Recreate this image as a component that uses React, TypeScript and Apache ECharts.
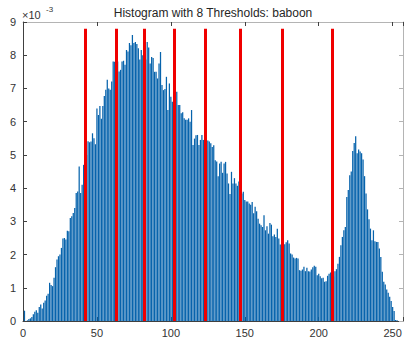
import React, { useEffect, useRef } from 'react';
import * as echarts from 'echarts';

// Histogram of pixel intensities (values in units of 1e-3)
const chartTitle = 'Histogram with 8 Thresholds: baboon';
const exponentBase = '×10';
const exponentPower = '-3';

const densityBins0to63 = [
  0, 0.31, 0, 0.02, 0.06, 0.08, 0.12, 0.2, 0.28, 0.32, 0.25, 0.42, 0.5, 0.38, 0.55, 0.62,
  0.76, 0.82, 1.15, 1.08, 1.05, 1.3, 1.62, 1.85, 1.95, 2.0, 2.2, 2.48, 2.5, 2.45, 2.72, 2.7,
  3.1, 3.15, 3.25, 3.4, 3.85, 3.9, 4.65, 3.85, 4.1, 4.7, 4.75, 5.0, 5.41, 5.38, 5.4, 5.65,
  5.5, 5.32, 6.4, 6.2, 6.47, 6.09, 6.47, 6.77, 6.96, 7.26, 7.0, 6.96, 7.21, 7.81, 7.8, 7.55,
];
const densityBins64to127 = [
  7.81, 7.51, 7.56, 7.81, 7.83, 7.71, 8.16, 8.11, 8.37, 8.3, 8.61, 8.37, 8.4, 8.34, 8.21, 7.87,
  8.16, 8.0, 7.9, 7.87, 8.4, 8.23, 7.75, 7.95, 7.92, 7.5, 7.5, 7.3, 7.75, 8.1, 7.1, 6.95,
  6.98, 7.35, 6.35, 7.15, 6.75, 6.6, 6.5, 6.48, 6.9, 6.5, 6.5, 6.25, 6.28, 6.1, 6.06, 6.06,
  6.1, 6.0, 6.35, 5.3, 5.49, 5.59, 5.6, 5.3, 5.45, 5.6, 5.45, 5.43, 5.39, 5.43, 5.4, 5.35,
];
const densityBins128to191 = [
  5.24, 5.29, 4.84, 4.8, 4.36, 4.74, 4.79, 4.46, 4.74, 4.79, 4.44, 4.14, 3.82, 4.49, 4.14, 4.3,
  4.14, 4.07, 4.2, 3.95, 3.84, 3.89, 3.64, 3.6, 3.6, 3.54, 3.5, 3.58, 3.24, 3.44, 3.3, 3.08,
  2.93, 2.88, 2.83, 3.18, 2.73, 2.85, 2.63, 2.95, 2.9, 2.55, 2.6, 2.53, 2.78, 2.48, 2.3, 2.35,
  2.23, 2.31, 2.37, 2.43, 2.33, 2.03, 2.0, 1.91, 1.88, 1.9, 1.88, 1.53, 1.51, 1.55, 1.63, 1.5,
];
const densityBins192to255 = [
  1.6, 1.5, 1.49, 1.55, 1.62, 1.66, 1.63, 1.38, 1.42, 1.35, 1.29, 1.3, 1.18, 1.2, 1.36, 1.42,
  1.46, 1.3, 1.34, 1.5, 1.56, 1.72, 1.93, 2.28, 2.53, 2.73, 2.83, 3.73, 3.94, 4.39, 4.5, 5.12,
  5.36, 5.56, 5.05, 5.16, 5.1, 5.05, 4.86, 4.36, 3.84, 3.36, 3.06, 2.78, 2.43, 2.73, 2.4, 2.38,
  2.38, 2.18, 1.93, 1.48, 1.18, 1.1, 0.95, 0.85, 0.73, 0.6, 0.42, 0.3, 0.03, 0.02, 0, 0,
];

const thresholds = [42, 63, 82, 102, 123, 147, 175, 209];
const thresholdTop = 8.8;

const xMin = 0;
const xMax = 257;
const xInterval = 50;
const yMin = 0;
const yMax = 9;
const yInterval = 1;

const FONT = '"Liberation Sans", Arial, Helvetica, sans-serif';

export default function App() {
  const ref = useRef<HTMLDivElement>(null);

  useEffect(() => {
    if (!ref.current) return;
    const chart = echarts.init(ref.current, undefined, { renderer: 'svg' });
    const density = [
      ...densityBins0to63,
      ...densityBins64to127,
      ...densityBins128to191,
      ...densityBins192to255,
    ];
    const barData = density.map((v, i) => [i, v]);

    const darkAxis = '#404040';
    const lightAxis = '#b4b4b4';
    const labelColor = '#333333';

    const option: any = {
      animation: false,
      grid: { left: 23, right: 16, top: 22, bottom: 27, containLabel: false },
      xAxis: [
        {
          type: 'value',
          min: xMin,
          max: xMax,
          interval: xInterval,
          position: 'bottom',
          axisLine: { show: true, onZero: false, lineStyle: { color: darkAxis, width: 1 } },
          axisTick: { show: true, inside: true, length: 4, lineStyle: { color: darkAxis } },
          axisLabel: {
            color: labelColor,
            fontSize: 11,
            fontFamily: FONT,
            margin: 6,
            formatter: (v: number) => (v % xInterval === 0 ? String(v) : ''),
          },
          splitLine: { show: false },
        },
        {
          type: 'value',
          min: xMin,
          max: xMax,
          interval: xInterval,
          position: 'top',
          axisLine: { show: true, onZero: false, lineStyle: { color: lightAxis, width: 1 } },
          axisTick: { show: true, inside: true, length: 4, lineStyle: { color: darkAxis } },
          axisLabel: { show: false },
          splitLine: { show: false },
        },
      ],
      yAxis: [
        {
          type: 'value',
          min: yMin,
          max: yMax,
          interval: yInterval,
          position: 'left',
          axisLine: { show: true, onZero: false, lineStyle: { color: darkAxis, width: 1 } },
          axisTick: { show: true, inside: true, length: 4, lineStyle: { color: darkAxis } },
          axisLabel: { color: labelColor, fontSize: 11, fontFamily: FONT, margin: 7 },
          splitLine: { show: false },
        },
        {
          type: 'value',
          min: yMin,
          max: yMax,
          interval: yInterval,
          position: 'right',
          axisLine: { show: true, onZero: false, lineStyle: { color: lightAxis, width: 1 } },
          axisTick: { show: true, inside: true, length: 4, lineStyle: { color: lightAxis } },
          axisLabel: { show: false },
          splitLine: { show: false },
        },
      ],
      series: [
        {
          type: 'bar',
          xAxisIndex: 0,
          yAxisIndex: 0,
          data: barData,
          barWidth: 1.25,
          itemStyle: { color: '#0763ac' },
          silent: true,
          markLine: {
            silent: true,
            symbol: ['none', 'none'],
            label: { show: false },
            lineStyle: { color: '#f00000', width: 3, type: 'solid', opacity: 1 },
            emphasis: { disabled: true },
            data: thresholds.map((t) => [
              { coord: [t, 0] },
              { coord: [t, thresholdTop] },
            ]),
          },
        },
      ],
      graphic: [
        {
          type: 'text',
          x: 213,
          y: 13,
          style: {
            text: chartTitle,
            fontSize: 12,
            fontFamily: FONT,
            fill: '#262626',
            textAlign: 'center',
            textVerticalAlign: 'middle',
          },
        },
        {
          type: 'text',
          x: 22,
          y: 15,
          style: {
            text: exponentBase,
            fontSize: 11,
            fontFamily: FONT,
            fill: labelColor,
            textAlign: 'left',
            textVerticalAlign: 'middle',
          },
        },
        {
          type: 'text',
          x: 46,
          y: 9,
          style: {
            text: exponentPower,
            fontSize: 8,
            fontFamily: FONT,
            fill: labelColor,
            textAlign: 'left',
            textVerticalAlign: 'middle',
          },
        },
      ],
    };

    chart.setOption(option);
    return () => chart.dispose();
  }, []);

  return (
    <div
      ref={ref}
      style={{ position: 'fixed', left: 0, top: 0, width: 419, height: 348, background: '#ffffff' }}
    />
  );
}
